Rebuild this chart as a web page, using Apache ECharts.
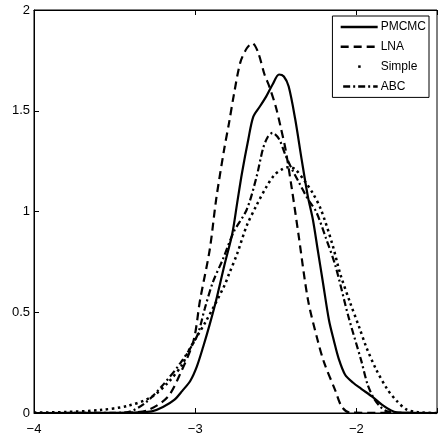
<!DOCTYPE html>
<html><head><meta charset="utf-8">
<script src="https://cdn.jsdelivr.net/npm/echarts@6/dist/echarts.min.js"></script>
<style>html,body{margin:0;padding:0;background:#fff}#c{width:440px;height:442px}</style>
</head><body><div id="c"></div>
<script>
var seriesNames = ['PMCMC', 'LNA', 'Simple', 'ABC'];
var xTicks = [-4, -3, -2];
var yTicks = [0, 0.5, 1, 1.5, 2];

var pmcmc = [[-4,0],[-3.5,0.001],[-3.35,0.003],[-3.27,0.008],[-3.2,0.03],[-3.13,0.065],[-3.08,0.11],[-3.03,0.16],[-2.99,0.23],[-2.95,0.33],[-2.91,0.44],[-2.87,0.56],[-2.82,0.73],[-2.77,0.89],[-2.74,1.04],[-2.71,1.19],[-2.67,1.36],[-2.64,1.47],[-2.60,1.52],[-2.56,1.57],[-2.52,1.63],[-2.48,1.68],[-2.45,1.67],[-2.42,1.62],[-2.38,1.46],[-2.34,1.26],[-2.30,1.07],[-2.27,0.96],[-2.24,0.81],[-2.21,0.66],[-2.17,0.46],[-2.14,0.36],[-2.11,0.27],[-2.07,0.19],[-2.02,0.15],[-1.97,0.12],[-1.90,0.08],[-1.84,0.04],[-1.79,0.015],[-1.75,0.003],[-1.5,0]];
var lna = [[-4,0],[-3.5,0],[-3.4,0.002],[-3.29,0.015],[-3.17,0.08],[-3.09,0.2],[-3.01,0.36],[-2.97,0.56],[-2.91,0.81],[-2.87,1.06],[-2.82,1.31],[-2.79,1.44],[-2.76,1.58],[-2.72,1.74],[-2.68,1.81],[-2.645,1.835],[-2.61,1.79],[-2.57,1.68],[-2.54,1.62],[-2.50,1.52],[-2.47,1.42],[-2.44,1.31],[-2.40,1.11],[-2.36,0.89],[-2.30,0.56],[-2.24,0.36],[-2.20,0.25],[-2.13,0.11],[-2.09,0.03],[-2.04,0.002],[-1.5,0]];
var simple = [[-4,0.002],[-3.8,0.005],[-3.59,0.015],[-3.42,0.035],[-3.27,0.08],[-3.17,0.15],[-3.08,0.24],[-3.04,0.31],[-2.93,0.46],[-2.82,0.63],[-2.79,0.69],[-2.74,0.79],[-2.68,0.93],[-2.62,1.03],[-2.56,1.12],[-2.51,1.18],[-2.46,1.21],[-2.42,1.22],[-2.38,1.21],[-2.32,1.15],[-2.27,1.09],[-2.22,1.01],[-2.15,0.84],[-2.10,0.69],[-2.04,0.55],[-1.98,0.42],[-1.94,0.33],[-1.88,0.22],[-1.81,0.12],[-1.75,0.06],[-1.69,0.018],[-1.62,0.004],[-1.5,0]];
var abc = [[-4,0],[-3.5,0.001],[-3.41,0.006],[-3.31,0.05],[-3.21,0.13],[-3.09,0.25],[-2.99,0.38],[-2.94,0.52],[-2.89,0.65],[-2.83,0.76],[-2.76,0.90],[-2.68,1.01],[-2.62,1.17],[-2.58,1.31],[-2.55,1.37],[-2.52,1.39],[-2.48,1.36],[-2.44,1.28],[-2.40,1.21],[-2.36,1.15],[-2.30,1.06],[-2.25,1.00],[-2.19,0.87],[-2.13,0.73],[-2.05,0.48],[-1.97,0.26],[-1.93,0.14],[-1.89,0.07],[-1.85,0.03],[-1.81,0.008],[-1.7,0]];

var FONT = 'Liberation Sans, Arial, sans-serif';
function fmt(v){ return String(v).replace('-', '\u2212'); }

var chart = echarts.init(document.getElementById('c'), null, {renderer:'canvas'});
var base = {type:'line', symbol:'none', smooth:0.3, animation:false, z:3};
chart.setOption({
  animation:false,
  backgroundColor:'#fff',
  grid:{left:34, top:10, right:-4, bottom:29, show:true, borderColor:'#000', borderWidth:1},
  legend:{
    orient:'vertical', right:11, top:16,
    backgroundColor:'#fff', borderColor:'#000', borderWidth:1,
    padding:[5,3,5,7], itemWidth:37, itemHeight:12, itemGap:7.8,
    itemStyle:{color:'rgba(0,0,0,0)', borderWidth:0, opacity:0},
    lineStyle:{width:2.5, color:'#000'},
    textStyle:{fontFamily:FONT, fontSize:12, color:'#000', padding:[0,0,0,-2]},
    data:[
      {name:'PMCMC'},
      {name:'LNA'},
      {name:'Simple', lineStyle:{type:[2.5,60], dashOffset:-17.5}},
      {name:'ABC'}
    ]
  },
  xAxis:[{
    type:'value', min:-4, max:-1.5, interval:1, position:'bottom',
    axisLine:{show:true, lineStyle:{color:'#000', width:1}},
    axisTick:{show:true, inside:true, length:5, lineStyle:{color:'#000'}},
    splitLine:{show:false},
    axisLabel:{fontFamily:FONT, fontSize:13, color:'#000', margin:10,
      formatter:function(v){ return xTicks.indexOf(v)>=0 ? fmt(v) : ''; }}
  },{
    type:'value', min:-4, max:-1.5, interval:1, position:'top',
    axisLine:{show:true, lineStyle:{color:'#000', width:1}},
    axisTick:{show:true, inside:true, length:5, lineStyle:{color:'#000'}},
    splitLine:{show:false}, axisLabel:{show:false}
  }],
  yAxis:[{
    type:'value', min:0, max:2, interval:0.5,
    axisLine:{show:true, lineStyle:{color:'#000', width:1}},
    axisTick:{show:true, inside:true, length:5, lineStyle:{color:'#000'}},
    splitLine:{show:false},
    axisLabel:{fontFamily:FONT, fontSize:13, color:'#000', margin:4,
      formatter:function(v){ return yTicks.indexOf(v)>=0 ? String(v) : ''; }}
  }],
  series:[
    Object.assign({}, base, {name:seriesNames[0], data:pmcmc, lineStyle:{color:'#000', width:2.2, type:'solid'}, itemStyle:{color:'#000'}}),
    Object.assign({}, base, {name:seriesNames[1], data:lna, lineStyle:{color:'#000', width:2.2, type:[8,5], cap:'butt'}, itemStyle:{color:'#000'}}),
    Object.assign({}, base, {name:seriesNames[2], data:simple, lineStyle:{color:'#000', width:2.5, type:[2.5,3.5], cap:'butt'}, itemStyle:{color:'#000'}}),
    Object.assign({}, base, {name:seriesNames[3], data:abc, lineStyle:{color:'#000', width:2.2, type:[7,3,2,3], cap:'butt'}, itemStyle:{color:'#000'}})
  ]
});
</script>
</body></html>
